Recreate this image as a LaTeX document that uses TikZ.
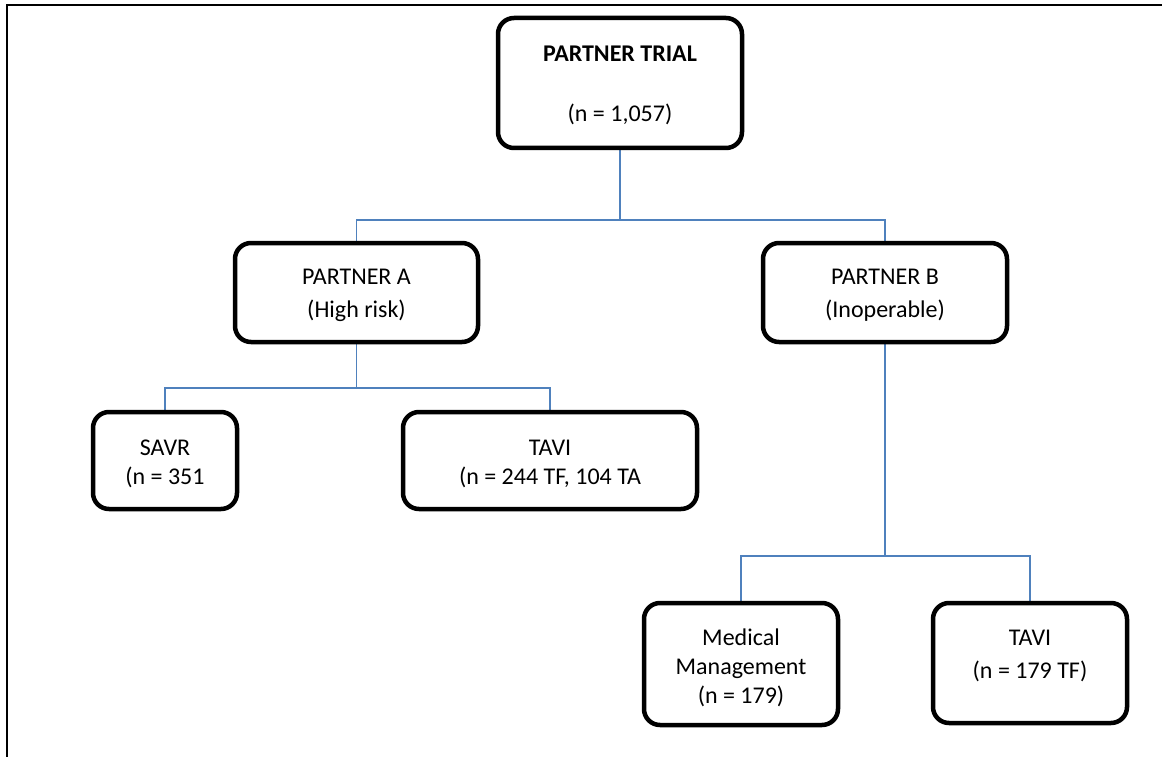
\documentclass[tikz,border=0pt]{standalone}
\usepackage{fontspec}
\setmainfont{Carlito}
\usetikzlibrary{backgrounds}
\definecolor{linkblue}{RGB}{79,129,189}
\begin{document}
\begin{tikzpicture}[x=1pt,y=-1pt,
  box/.style={draw=black, line width=4.5pt, rounded corners=16pt, fill=white,
    inner sep=0pt},
  txt/.style={align=center, inner sep=0pt, font=\fontsize{24}{29}\selectfont},
  conn/.style={draw=linkblue, line width=1.6pt},
  frameline/.style={draw=black, line width=2.5pt}]
\useasboundingbox (0,0) rectangle (1162,757);
\draw[frameline] (7,757) -- (7,5) -- (1162,5);

\node[box, minimum width=244pt, minimum height=130pt] (trial) at (620,83) {};
\node[txt] (trialtxt) at ([yshift=-2pt]trial.center)
  {\textbf{PARTNER TRIAL}\\[31pt](n = 1,057)};

\node[box, minimum width=243pt, minimum height=99pt] (pa) at (356.5,292.5) {};
\node[txt] (patxt) at ([yshift=-3pt]pa.center) {PARTNER A\\[4pt](High risk)};

\node[box, minimum width=244pt, minimum height=99pt] (pb) at (885,292.5) {};
\node[txt] (pbtxt) at ([yshift=-3pt]pb.center) {PARTNER B\\[4pt](Inoperable)};

\node[box, minimum width=144pt, minimum height=97pt] (savr) at (165,460.5) {};
\node[txt] (savrtxt) at ([yshift=-3pt]savr.center) {SAVR\\(n = 351};

\node[box, minimum width=294pt, minimum height=97pt] (tavia) at (550,460.5) {};
\node[txt] (taviatxt) at ([yshift=-3pt]tavia.center) {TAVI\\(n = 244 TF, 104 TA};

\node[box, minimum width=194pt, minimum height=122pt] (med) at (741,664) {};
\node[txt] (medtxt) at ([yshift=-4pt]med.center) {Medical\\Management\\(n = 179)};

\node[box, minimum width=194pt, minimum height=120pt] (tavib) at (1030,663) {};
\node[txt] (tavibtxt) at ([yshift=7pt]tavib.center) {TAVI\\[4pt](n = 179 TF)};

\coordinate (j1) at (620,220);
\coordinate (j2) at (356.5,388);
\coordinate (j3) at (885,556);

\begin{pgfonlayer}{background}
\draw[conn] (trial.south) -- (j1);
\draw[conn] (pa.north) |- (j1) -| (pb.north);
\draw[conn] (pa.south) -- (j2);
\draw[conn] (savr.north) |- (j2) -| (tavia.north);
\draw[conn] (pb.south) -- (j3);
\draw[conn] (med.north) |- (j3) -| (tavib.north);
\end{pgfonlayer}
\end{tikzpicture}
\end{document}
